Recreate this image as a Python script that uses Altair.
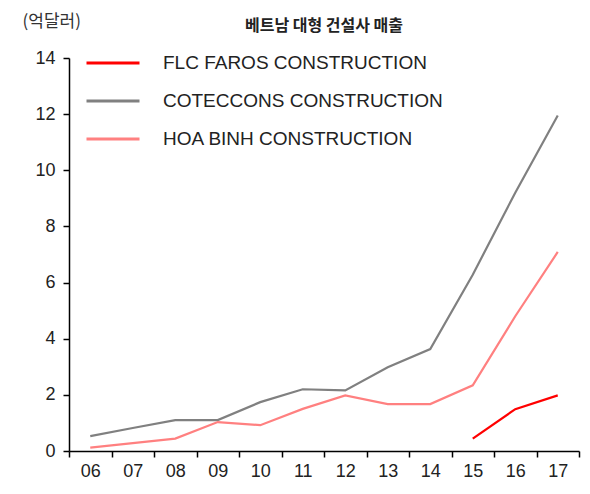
import altair as alt
import pandas as pd

years = ["06", "07", "08", "09", "10", "11", "12", "13", "14", "15", "16", "17"]
series = ["FLC FAROS CONSTRUCTION", "COTECCONS CONSTRUCTION", "HOA BINH CONSTRUCTION"]
colors = ["#ff0000", "#808080", "#ff8080"]

flc_years = ["15", "16", "17"]
flc_values = [0.44, 1.49, 1.98]
coteccons_values = [0.53, 0.82, 1.10, 1.10, 1.74, 2.20, 2.16, 2.98, 3.63, 6.28, 9.20, 11.95]
hoabinh_values = [0.12, 0.28, 0.44, 1.03, 0.92, 1.50, 1.98, 1.67, 1.67, 2.34, 4.80, 7.09]

rows = []
for y, v in zip(flc_years, flc_values):
    rows.append({"year": y, "company": series[0], "value": v})
for y, v in zip(years, coteccons_values):
    rows.append({"year": y, "company": series[1], "value": v})
for y, v in zip(years, hoabinh_values):
    rows.append({"year": y, "company": series[2], "value": v})
df = pd.DataFrame(rows)

LAT = "Liberation Sans, Arial, sans-serif"
KR = "Noto Sans CJK KR"

chart = alt.Chart(df).mark_line(strokeWidth=2.2).encode(
    x=alt.X("year:N", sort=years,
            scale=alt.Scale(domain=years, paddingInner=0, paddingOuter=0),
            axis=alt.Axis(title=None, labelAngle=0, tickBand="extent",
                          labelFont=LAT, labelFontSize=18, labelColor="#222",
                          labelPadding=5, tickSize=6, tickColor="#000",
                          domainColor="#000", domainWidth=1.5, tickWidth=1.5)),
    y=alt.Y("value:Q",
            scale=alt.Scale(domain=[0, 14], nice=False),
            axis=alt.Axis(values=[0, 2, 4, 6, 8, 10, 12, 14], grid=False,
                          title="(억달러)", titleAngle=0, titleAlign="left",
                          titleBaseline="middle", titleX=-47, titleY=-37,
                          titleFont=KR, titleFontSize=17, titleFontWeight="normal",
                          titleColor="#333",
                          labelFont=LAT, labelFontSize=18, labelColor="#222",
                          labelPadding=8, tickSize=6, tickColor="#000",
                          domainColor="#000", domainWidth=1.5, tickWidth=1.5)),
    color=alt.Color("company:N",
                    scale=alt.Scale(domain=series, range=colors),
                    legend=alt.Legend(title=None, orient="none", legendX=16, legendY=-23,
                                      symbolType="stroke", symbolSize=2809,
                                      symbolStrokeWidth=3, rowPadding=-29,
                                      labelFont=LAT, labelFontSize=19, labelColor="#222",
                                      labelOffset=22, labelLimit=0, padding=0)),
).properties(
    width=510, height=393,
    title=alt.TitleParams("베트남 대형 건설사 매출", font=KR, fontSize=16,
                          fontWeight="bold", color="#222", anchor="middle",
                          frame="group", offset=0, dy=22),
    autosize=alt.AutoSizeParams(type="none"),
    padding={"left": 61, "top": 50, "right": 3, "bottom": 35},
).configure_view(stroke=None)

chart.save("out.html", embed_options={"renderer": "svg", "actions": False})
